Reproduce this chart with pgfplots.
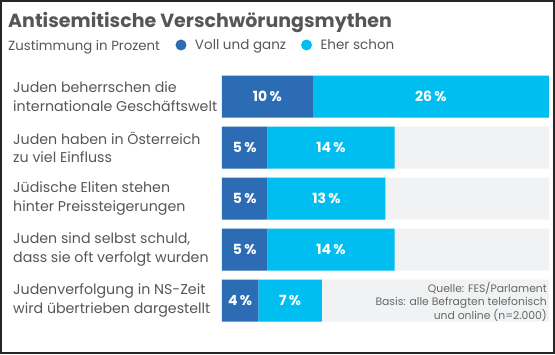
\documentclass[border=0pt]{standalone}
\usepackage{pgfplots}
\pgfplotsset{compat=1.18}
\usepackage{pgfplotstable}
\usepackage{fontspec}
\setmainfont{Poppins}
\definecolor{dblue}{HTML}{2C6CB5}
\definecolor{lblue}{HTML}{00BEF0}
\definecolor{bg}{HTML}{F1F2F3}
\definecolor{txt}{HTML}{565656}

\pgfplotstableread{
y voll eher
0 10 26
1 5 14
2 5 13
3 5 14
4 4 7
}\data

\begin{document}
\begin{tikzpicture}
\path[use as bounding box] (0pt,0pt) rectangle (555pt,-354pt);
\draw[black!85, line width=2pt] (1pt,-1pt) rectangle (554pt,-353pt);
\node[anchor=base west, font=\bfseries\fontsize{19}{24}\selectfont, text=txt, inner sep=0] at (8pt,-27pt) {Antisemitische Verschwörungsmythen};
\node[anchor=base west, font=\fontsize{13.3}{16}\selectfont, text=txt, inner sep=0] at (8pt,-50pt) {Zustimmung in Prozent};
% background bars
\begin{axis}[at={(222pt,-71pt)}, anchor=north west, scale only axis, width=327pt, height=255pt,
  xmin=0, xmax=36, ymin=-0.5, ymax=4.5, y dir=reverse, hide axis, xbar, bar width=42pt]
\addplot[fill=bg, draw=none] coordinates {(36,0) (36,1) (36,2) (36,3) (36,4)};
\end{axis}
\begin{axis}[at={(222pt,-71pt)}, anchor=north west, scale only axis, width=327pt, height=255pt,
  xmin=0, xmax=36, ymin=-0.5, ymax=4.5, y dir=reverse, xbar stacked, bar width=42pt,
  axis line style={draw=none}, tick style={draw=none}, xtick=\empty,
  ytick={0,1,2,3,4},
  yticklabels={{Juden beherrschen die\\internationale Geschäftswelt},
               {Juden haben in Österreich\\zu viel Einfluss},
               {Jüdische Eliten stehen\\hinter Preissteigerungen},
               {Juden sind selbst schuld,\\dass sie oft verfolgt wurden},
               {Judenverfolgung in NS-Zeit\\wird übertrieben dargestellt}},
  yticklabel style={anchor=west, align=left, xshift=-209pt, inner sep=0, text=txt,
    font=\fontsize{14.2}{18.5}\selectfont},
  /pgf/number format/assume math mode=true,
  nodes near coords={\pgfmathprintnumber{\pgfplotspointmeta}\,\%},
  every node near coord/.append style={anchor=center, text=white,
    font=\bfseries\fontsize{14}{15}\selectfont},
  legend style={at={(-0.152,1.102)}, anchor=west, draw=none, fill=none, text=txt,
    font=\fontsize{13.5}{16}\selectfont, legend columns=-1,
    /tikz/every even column/.append style={column sep=13pt}},
  legend image code/.code={\fill[#1] (0pt,0pt) circle (5.5pt); \path (12pt,0pt);},
]
\addplot[fill=dblue, draw=none] table[x=voll, y=y]{\data};
\addlegendentry{Voll und ganz}
\addplot[fill=lblue, draw=none] table[x=eher, y=y]{\data};
\addlegendentry{Eher schon}
\end{axis}
\node[anchor=east, align=right, font=\fontsize{10.8}{13.5}\selectfont, text=txt!90, inner sep=0] at (547pt,-301.5pt) {Quelle: FES/Parlament\\Basis: alle Befragten telefonisch\\und online (n=2.000)};
\end{tikzpicture}
\end{document}
